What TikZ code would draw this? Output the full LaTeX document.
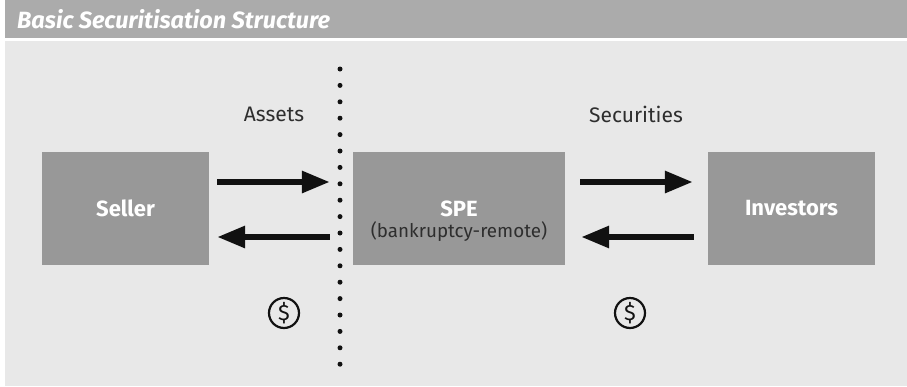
\documentclass[tikz,border=0pt]{standalone}
\usepackage{fontspec}
\setmainfont{Fira Sans}
\usetikzlibrary{arrows.meta}
\definecolor{hdrgray}{HTML}{ABABAB}
\definecolor{panelgray}{HTML}{E8E8E8}
\definecolor{boxgray}{HTML}{989898}
\definecolor{inkdark}{HTML}{111111}
\definecolor{labeldark}{HTML}{2E2E2E}
\tikzset{
  party/.style={fill=boxgray, draw=none, minimum height=113pt, inner sep=0pt,
    text=white, font=\fontsize{22}{26}\selectfont\bfseries, align=center},
  partynote/.style={text=labeldark, font=\fontsize{18.8}{22}\selectfont, inner sep=0pt},
  flow/.style={draw=inkdark, line width=6pt,
    -{Triangle[length=28pt,width=21pt]}},
  flowlabel/.style={text=labeldark, font=\fontsize{21}{25}\selectfont, inner sep=0pt},
  coin/.style={circle, draw=inkdark, line width=2.2pt, minimum size=30pt, inner sep=0pt,
    text=inkdark, font=\fontsize{22}{26}\selectfont},
  dot/.style={circle, fill=inkdark, minimum size=5pt, inner sep=0pt}
}
\begin{document}
\begin{tikzpicture}[x=1pt,y=-1pt]
  \useasboundingbox (0,0) rectangle (907,386);
  % title bar and panel
  \fill[hdrgray] (5,0) rectangle (907,38);
  \fill[panelgray] (5,41) rectangle (907,386);
  \node[anchor=west, text=white, inner sep=0pt,
        font=\fontsize{23.5}{27}\selectfont\bfseries\itshape] (title) at (17,19)
        {Basic Securitisation Structure};

  % parties
  \node[party, minimum width=167pt] (seller) at (125.5,208.5) {Seller};
  \node[party, minimum width=212pt] (spe) at (459,208.5) {SPE};
  \node[partynote] (spenote) at ([yshift=-23pt]spe.center) {(bankruptcy-remote)};
  \node[party, minimum width=167pt] (investors) at (791.5,208.5) {Investors};

  % true-sale boundary
  \foreach \k in {0,...,18}
    \node[dot] (d\k) at (340,{69+16.4*\k}) {};

  % flows (yshift is in page units: positive = up)
  \draw[flow, shorten <=8pt, shorten >=23pt]
    ([yshift=26.5pt]seller.east) -- ([yshift=26.5pt]spe.west);
  \draw[flow, shorten <=23pt, shorten >=8pt]
    ([yshift=-28.5pt]spe.west) -- ([yshift=-28.5pt]seller.east);
  \draw[flow, shorten <=15pt, shorten >=15pt]
    ([yshift=26.5pt]spe.east) -- ([yshift=26.5pt]investors.west);
  \draw[flow, shorten <=14pt, shorten >=16pt]
    ([yshift=-28.5pt]investors.west) -- ([yshift=-28.5pt]spe.east);

  % labels
  \node[flowlabel] (assets) at (274,114) {Assets};
  \node[flowlabel] (securities) at (636,114) {Securities};
  \node[coin] (pay1) at (284,313) {\$};
  \node[coin] (pay2) at (630,313) {\$};
\end{tikzpicture}
\end{document}
